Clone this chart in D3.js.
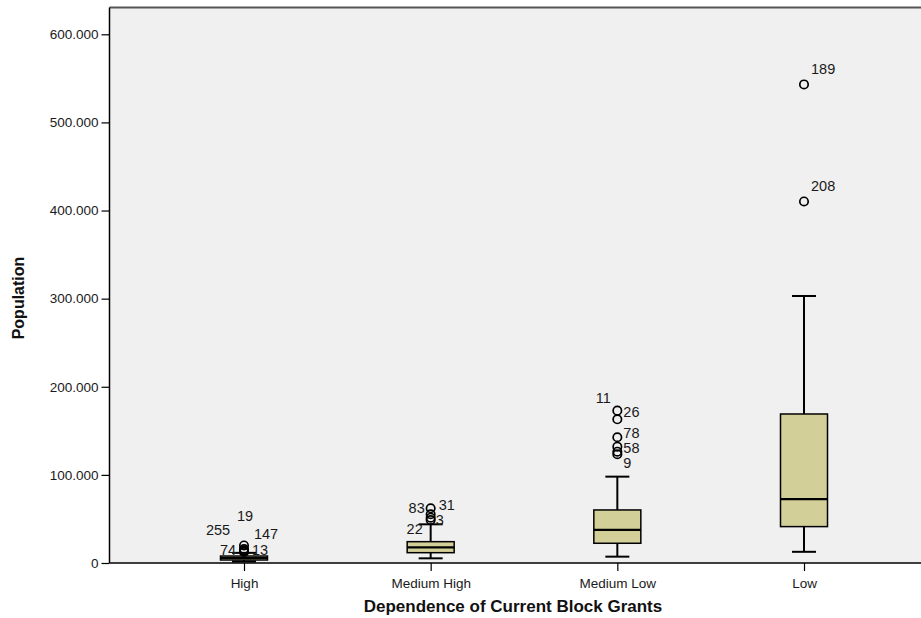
<!DOCTYPE html>
<html><head><meta charset="utf-8">
<script src="https://cdn.jsdelivr.net/npm/d3@7/dist/d3.min.js"></script>
<style>body{margin:0;background:#fff;}svg{display:block;font-family:"Liberation Sans",Arial,sans-serif;}</style>
</head><body><svg id="c" width="921" height="618"></svg>
<script>
const categories = ["High", "Medium High", "Medium Low", "Low"];
const lowerWhisker = [1700, 5300, 7200, 12700];
const q1 = [3400, 11700, 22400, 41300];
const median = [5700, 17800, 37500, 72600];
const q3 = [7900, 24200, 60200, 169100];
const upperWhisker = [11500, 43900, 98000, 303000];
const outlierValues = [
  [19900, 15900, 14200, 13100, 12500],
  [62100, 55300, 51400, 48800],
  [172900, 163100, 142700, 132000, 126300, 123400],
  [543100, 410300]
];
const outlierLabels = [
  ["19", "147", "74", "13", "255"],
  ["83", "31", "3", "22"],
  ["11", "26", "78", "", "58", "9"],
  ["189", "208"]
];
const yTicks = [0, 100000, 200000, 300000, 400000, 500000, 600000];
const yTickLabels = ["0", "100.000", "200.000", "300.000", "400.000", "500.000", "600.000"];

// label placement offsets (dx, dy, anchor) relative to each outlier
const labelOffsets = [
  [[1, -28, "middle"], [22, -14, "middle"], [-16, 1, "middle"], [16, 0, "middle"], [-26, -21, "middle"]],
  [[-14, 1, "middle"], [8, -8, "start"], [5, 3, "start"], [-16, 10, "middle"]],
  [[-14, -11, "middle"], [6, -6, "start"], [6, -3, "start"], [0, 0, "start"], [6, -3, "start"], [6, 10, "start"]],
  [[7, -14, "start"], [7, -14, "start"]]
];

const svg = d3.select("#c");
const pLeft = 109.5, pRight = 921, pTop = 7.5, pBottom = 563;
const x = d3.scalePoint().domain(categories).range([244, 804]);
const y = d3.scaleLinear().domain([0, 600000]).range([pBottom, 34.3]);
const boxW = 47;

svg.append("rect").attr("x", pLeft).attr("y", pTop).attr("width", pRight - pLeft).attr("height", pBottom - pTop).attr("fill", "#f0f0f0");
svg.append("line").attr("x1", pLeft).attr("x2", pRight).attr("y1", pTop).attr("y2", pTop).attr("stroke", "#555").attr("stroke-width", 2);

const yAxis = d3.axisLeft(y).tickValues(yTicks).tickFormat((d, i) => yTickLabels[i]).tickSize(8).tickPadding(3);
const gy = svg.append("g").attr("transform", `translate(${pLeft},0)`).call(yAxis);
gy.select(".domain").attr("stroke", "#000").attr("stroke-width", 1.5).attr("d", `M0,${pTop}V${pBottom}`);
gy.selectAll(".tick line").attr("stroke", "#000").attr("stroke-width", 1.2);
gy.selectAll(".tick text").attr("font-size", 13.5).attr("fill", "#1a1a1a").attr("font-family", "Liberation Sans, Arial, sans-serif");

const xAxis = d3.axisBottom(x).tickSize(8).tickPadding(7);
const gx = svg.append("g").attr("transform", `translate(0,${pBottom})`).call(xAxis);
gx.select(".domain").attr("stroke", "#000").attr("stroke-width", 1.5).attr("d", `M${pLeft},0H${pRight}`);
gx.selectAll(".tick line").attr("stroke", "#000").attr("stroke-width", 1.2);
gx.selectAll(".tick text").attr("font-size", 13.5).attr("fill", "#1a1a1a").attr("font-family", "Liberation Sans, Arial, sans-serif");

const g = svg.append("g");
categories.forEach((c, i) => {
  const cx = x(c);
  g.append("line").attr("x1", cx).attr("x2", cx).attr("y1", y(upperWhisker[i])).attr("y2", y(q3[i])).attr("stroke", "#000").attr("stroke-width", 2);
  g.append("line").attr("x1", cx).attr("x2", cx).attr("y1", y(q1[i])).attr("y2", y(lowerWhisker[i])).attr("stroke", "#000").attr("stroke-width", 2);
  [upperWhisker[i], lowerWhisker[i]].forEach(v => {
    g.append("line").attr("x1", cx - 12).attr("x2", cx + 12).attr("y1", y(v)).attr("y2", y(v)).attr("stroke", "#000").attr("stroke-width", 2);
  });
  g.append("rect").attr("x", cx - boxW / 2).attr("y", y(q3[i])).attr("width", boxW).attr("height", y(q1[i]) - y(q3[i]))
    .attr("fill", "#d3cf99").attr("stroke", "#000").attr("stroke-width", 1.5);
  g.append("line").attr("x1", cx - boxW / 2).attr("x2", cx + boxW / 2).attr("y1", y(median[i])).attr("y2", y(median[i])).attr("stroke", "#000").attr("stroke-width", 2.2);
  outlierValues[i].forEach((v, j) => {
    const lab = outlierLabels[i][j];
    if (lab) {
      const o = labelOffsets[i][j];
      g.append("text").attr("x", cx + o[0]).attr("y", y(v) + o[1]).attr("text-anchor", o[2]).attr("dominant-baseline", "middle")
        .attr("font-size", 14.5).attr("fill", "#1a1a1a").text(lab);
    }
  });
  outlierValues[i].forEach(v => {
    g.append("circle").attr("cx", cx).attr("cy", y(v)).attr("r", 4.2).attr("fill", "none").attr("stroke", "#000").attr("stroke-width", 1.7);
  });
});

svg.append("text").attr("x", 513).attr("y", 612).attr("text-anchor", "middle").attr("font-size", 17).attr("font-weight", "bold").attr("fill", "#111").text("Dependence of Current Block Grants");
svg.append("text").attr("transform", "translate(24,298) rotate(-90)").attr("text-anchor", "middle").attr("font-size", 16).attr("font-weight", "bold").attr("fill", "#111").text("Population");
</script></body></html>
